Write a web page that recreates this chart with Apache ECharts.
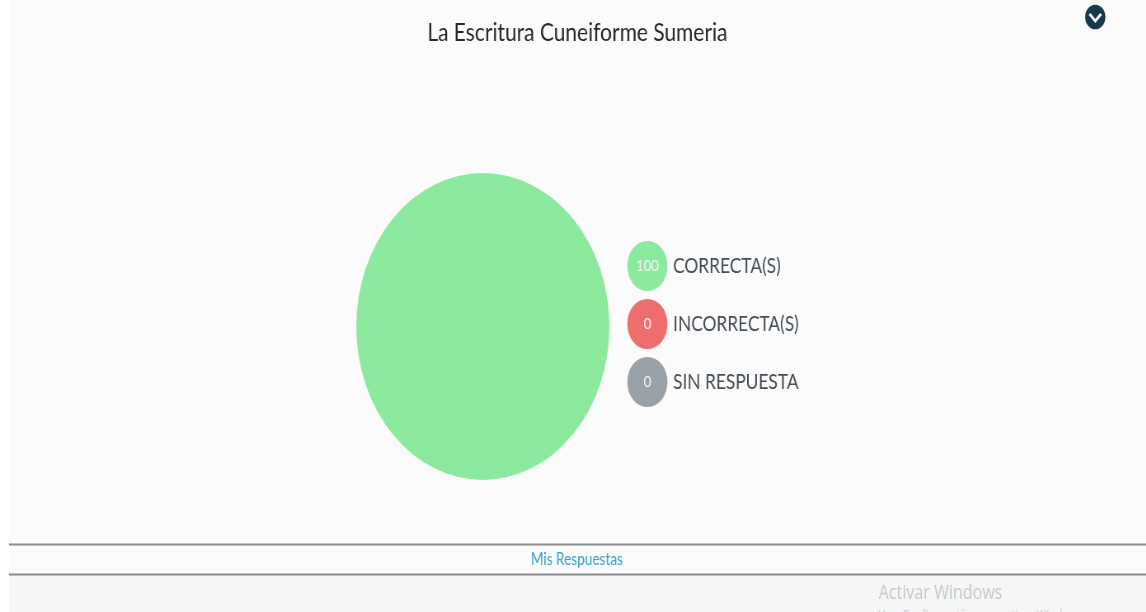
<!DOCTYPE html>
<html><head><meta charset="utf-8">
<style>html,body{margin:0;padding:0;background:#fff;overflow:hidden;width:1146px;height:612px}
#c{position:absolute;left:0;top:0;transform-origin:0 0}</style>
<script src="https://cdn.jsdelivr.net/npm/echarts@6/dist/echarts.min.js"></script>
</head><body><div id="c"></div>
<script>
const titleText = "La Escritura Cuneiforme Sumeria";
const categories = ["CORRECTA(S)", "INCORRECTA(S)", "SIN RESPUESTA"];
const values = [100, 0, 0];
const colors = ["#8cea9e", "#ee6e6e", "#9aa2a9"];
const footerLink = "Mis Respuestas";
const watermark = ["Activar Windows", "Ve a Configuración para activar Windows."];

const S = 0.824;               // the reference is squeezed horizontally
const W = 1146 / S, H = 612;
const el = document.getElementById('c');
el.style.width = W + 'px'; el.style.height = H + 'px';
el.style.transform = 'scaleX(' + S + ')';
const X = p => p / S;
const font = 'Lato, "Open Sans", sans-serif';

const rich = { t: { fontFamily: font, fontSize: 21, color: '#454d56', padding: [0, 0, 0, 7] } };
categories.forEach((c, i) => {
  rich['n' + i] = { width: 48.5, height: 50, lineHeight: 50, align: 'center', borderRadius: 25,
    backgroundColor: colors[i], color: '#f4f4f4', fontFamily: font, fontSize: 16 };
});

const chart = echarts.init(el, null, { width: W, height: H });
chart.setOption({
  animation: false,
  backgroundColor: '#fbfbfb',
  title: { text: titleText, left: X(427) - 5, top: 15, itemGap: 0,
    textStyle: { fontFamily: font, fontSize: 25.4, fontWeight: 400, color: '#26282b' } },
  legend: {
    orient: 'vertical', left: X(622.8), top: 241, padding: 0, itemGap: 8,
    itemWidth: 0, itemHeight: 0, icon: 'rect', selectedMode: false,
    data: categories,
    formatter: name => {
      const i = categories.indexOf(name);
      return '{n' + i + '|' + values[i] + '}{t|' + name + '}';
    },
    textStyle: { rich: rich, padding: 0 }
  },
  series: [{
    type: 'pie', center: [X(482.5), 326.5], radius: [0, 153.5], silent: true,
    label: { show: false }, labelLine: { show: false },
    itemStyle: { borderWidth: 0 },
    data: categories.map((c, i) => ({ name: c, value: values[i], itemStyle: { color: colors[i] } }))
  }],
  graphic: [
    { type: 'rect', z: -1, shape: { x: 0, y: 0, width: X(9), height: H }, style: { fill: '#ffffff' } },
    { type: 'rect', z: -1, shape: { x: X(9), y: 575, width: W, height: 37 }, style: { fill: '#f5f6f7' } },
    { type: 'rect', z: 1, shape: { x: X(9), y: 543.5, width: W, height: 2 }, style: { fill: '#8c8c8c' } },
    { type: 'rect', z: 1, shape: { x: X(9), y: 573.5, width: W, height: 2 }, style: { fill: '#8c8c8c' } },
    { type: 'text', z: 2, style: { x: X(576.5), y: 560, text: footerLink, align: 'center', verticalAlign: 'middle',
        fontFamily: font, fontSize: 16.5, fill: '#3a9fd0' } },
    { type: 'text', z: 2, style: { x: X(878), y: 593, text: watermark[0], align: 'left', verticalAlign: 'middle',
        fontFamily: '"Open Sans", sans-serif', fontSize: 19.5, fill: '#c6c8ca' } },
    { type: 'text', z: 2, style: { x: X(878), y: 615, text: watermark[1], align: 'left', verticalAlign: 'middle',
        fontFamily: '"Open Sans", sans-serif', fontSize: 13, fill: '#c6c8ca' } },
    { type: 'circle', z: 2, shape: { cx: X(1094.5), cy: 17, r: 12.3 }, style: { fill: '#17384c' } },
    { type: 'polyline', z: 3, shape: { points: [[X(1094.5) - 7, 14], [X(1094.5), 21], [X(1094.5) + 7, 14]] },
      style: { stroke: '#ffffff', lineWidth: 3, fill: 'none' } }
  ]
});
</script></body></html>
